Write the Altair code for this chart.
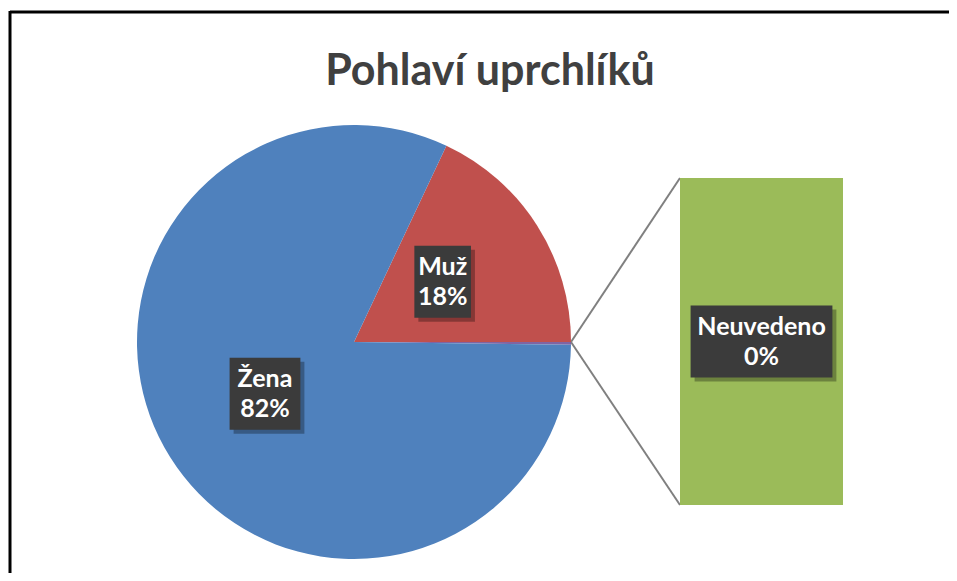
import math
import altair as alt
import pandas as pd

# ---- data ----
title_text = "Pohlaví uprchlíků"
pie_cats = ["Muž", "Ostatní", "Žena"]
pie_vals = [18.0, 0.2, 81.8]
pie_colors = ["#C0504D", "#8064A2", "#4F81BD"]
pie_show_label = [True, False, True]
bar_cats = ["Neuvedeno"]
bar_vals = [0.2]
bar_color = "#9BBB59"

# ---- layout ----
W, H = 941, 565
CX, CY, R = 346, 334, 217
LR = 105                      # label radius
START = math.radians(25.2)    # first slice start angle (clockwise from 12 o'clock)
BX0, BX1, BTOP, BBOT = 672, 835, 170, 497
FONT = "Lato"

total = sum(pie_vals)
pie_df = pd.DataFrame({
    "cat": pie_cats,
    "value": pie_vals,
    "order": list(range(len(pie_cats))),
    "label": [f"{c}\n{round(v / total * 100)}%" if s else ""
              for c, v, s in zip(pie_cats, pie_vals, pie_show_label)],
})
pie_df["chars"] = [max(len(s) for s in l.split("\n")) for l in pie_df["label"]]

bar_total = sum(bar_vals)
bar_df = pd.DataFrame({
    "cat": bar_cats,
    "lo": [0.0],
    "hi": [v / bar_total for v in bar_vals],
    "label": [f"{c}\n{round(v / total * 100)}%" for c, v in zip(bar_cats, bar_vals)],
})
bar_df["chars"] = [max(len(s) for s in l.split("\n")) for l in bar_df["label"]]

color_scale = alt.Scale(domain=pie_cats, range=pie_colors)

base_pie = alt.Chart(pie_df)

arcs = base_pie.mark_arc(outerRadius=R).encode(
    theta=alt.Theta("value:Q", stack=True,
                    scale=alt.Scale(range=[START, START + 2 * math.pi])),
    color=alt.Color("cat:N", scale=color_scale, legend=None),
    order=alt.Order("order:Q"),
    x=alt.value(CX), y=alt.value(CY),
)

pie_pos = base_pie.transform_window(
    cum="sum(value)", sort=[alt.SortField("order")], frame=[None, 0]
).transform_joinaggregate(
    tot="sum(value)"
).transform_calculate(
    mid=f"{START} + 2*PI*(datum.cum - datum.value/2)/datum.tot",
).transform_calculate(
    lx=f"{CX} + {LR}*sin(datum.mid)",
    ly=f"{CY} - {LR}*cos(datum.mid) - 4",
).transform_filter("datum.label != ''")

bar_pos = alt.Chart(bar_df).transform_calculate(
    lx=f"{(BX0 + BX1) / 2}",
    ly=f"{(BTOP + BBOT) / 2}",
)

def label_layers(src):
    boxed = src.transform_calculate(
        bw="14 + 14.2*datum.chars", bh="72"
    ).transform_calculate(
        x0="datum.lx - datum.bw/2", x1="datum.lx + datum.bw/2",
        y0="datum.ly - datum.bh/2", y1="datum.ly + datum.bh/2",
        sx0="datum.lx - datum.bw/2 + 4", sx1="datum.lx + datum.bw/2 + 4",
        sy0="datum.ly - datum.bh/2 + 4", sy1="datum.ly + datum.bh/2 + 4",
    )
    shadow = boxed.mark_rect(color="black", opacity=0.3).encode(
        x=alt.X("sx0:Q", scale=None), x2="sx1:Q",
        y=alt.Y("sy0:Q", scale=None), y2="sy1:Q",
    )
    box = boxed.mark_rect(color="#3b3b3b").encode(
        x=alt.X("x0:Q", scale=None), x2="x1:Q",
        y=alt.Y("y0:Q", scale=None), y2="y1:Q",
    )
    txt = src.mark_text(
        font=FONT, fontSize=25, fontWeight="bold", color="white",
        lineBreak="\n", lineHeight=30, align="center", baseline="middle", dy=-15,
    ).encode(
        x=alt.X("lx:Q", scale=None), y=alt.Y("ly:Q", scale=None),
        text="label:N",
    )
    return [shadow, box, txt]

bar = alt.Chart(bar_df).mark_rect(color=bar_color).encode(
    y=alt.Y("lo:Q", scale=alt.Scale(domain=[0, 1], range=[BBOT, BTOP]), axis=None),
    y2="hi:Q",
    x=alt.value(BX0), x2=alt.value(BX1),
)

conn_top = alt.Chart(bar_df).mark_rule(color="#808080", strokeWidth=2).encode(
    x=alt.value(CX + R), y=alt.value(CY), x2=alt.value(BX0), y2=alt.value(BTOP))
conn_bot = alt.Chart(bar_df).mark_rule(color="#808080", strokeWidth=2).encode(
    x=alt.value(CX + R), y=alt.value(CY), x2=alt.value(BX0), y2=alt.value(BBOT))

title = alt.Chart(pd.DataFrame({"t": [title_text]})).mark_text(
    font=FONT, fontSize=43, fontWeight="bold", color="#404040",
    align="center", baseline="middle",
).encode(x=alt.value(482), y=alt.value(64), text="t:N")

frame_top = alt.Chart(bar_df).mark_rule(color="black", strokeWidth=3).encode(
    x=alt.value(2), x2=alt.value(W), y=alt.value(4))
frame_left = alt.Chart(bar_df).mark_rule(color="black", strokeWidth=3).encode(
    x=alt.value(2), y=alt.value(3), y2=alt.value(H))

chart = alt.layer(
    frame_top, frame_left, title,
    conn_top, conn_bot, arcs, bar,
    *label_layers(pie_pos), *label_layers(bar_pos),
).resolve_scale(
    x="independent", y="independent"
).properties(
    width=W, height=H, padding=0,
    autosize=alt.AutoSizeParams(type="none"),
    background="white",
).configure_view(stroke=None)

chart.save("out.html", embed_options={"renderer": "svg", "actions": False})
